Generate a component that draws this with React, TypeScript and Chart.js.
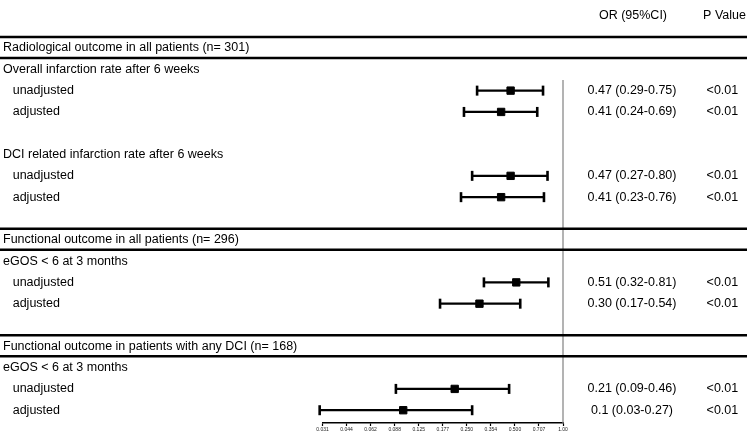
import React, { useEffect, useRef } from "react";
import { Chart, registerables } from "chart.js";

Chart.register(...registerables);

// ---- Data ----
const rowLabels: string[] = [
  "Radiological outcome in all patients (n= 301)",
  "Overall infarction rate after 6 weeks",
  "unadjusted",
  "adjusted",
  "",
  "DCI related infarction rate after 6 weeks",
  "unadjusted",
  "adjusted",
  "",
  "Functional outcome in all patients (n= 296)",
  "eGOS < 6 at 3 months",
  "unadjusted",
  "adjusted",
  "",
  "Functional outcome in patients with any DCI (n= 168)",
  "eGOS < 6 at 3 months",
  "unadjusted",
  "adjusted",
];
const rowKinds: string[] = [
  "section", "group", "sub", "sub", "blank", "group", "sub", "sub", "blank",
  "section", "group", "sub", "sub", "blank",
  "section", "group", "sub", "sub",
];
const estimateRows: number[] = [2, 3, 6, 7, 11, 12, 16, 17];
const orValues: number[] = [0.47, 0.41, 0.47, 0.41, 0.51, 0.30, 0.21, 0.1];
const ciLow: number[] = [0.29, 0.24, 0.27, 0.23, 0.32, 0.17, 0.09, 0.03];
const ciHigh: number[] = [0.75, 0.69, 0.80, 0.76, 0.81, 0.54, 0.46, 0.27];
const orTexts: string[] = [
  "0.47 (0.29-0.75)",
  "0.41 (0.24-0.69)",
  "0.47 (0.27-0.80)",
  "0.41 (0.23-0.76)",
  "0.51 (0.32-0.81)",
  "0.30 (0.17-0.54)",
  "0.21 (0.09-0.46)",
  "0.1 (0.03-0.27)",
];
const pValues: string[] = ["<0.01", "<0.01", "<0.01", "<0.01", "<0.01", "<0.01", "<0.01", "<0.01"];
const tickValues: number[] = [0.03125, 0.04419, 0.0625, 0.08839, 0.125, 0.17678, 0.25, 0.35355, 0.5, 0.70711, 1];
const tickLabels: string[] = ["0.031", "0.044", "0.062", "0.088", "0.125", "0.177", "0.250", "0.354", "0.500", "0.707", "1.00"];
const headerOR = "OR (95%CI)";
const headerP = "P Value";

const FONT = "'Liberation Sans', Arial, Helvetica, sans-serif";

const tablePlugin = {
  id: "forestTable",
  beforeDatasetsDraw(chart: any) {
    const { ctx, scales } = chart;
    const xs = scales.x;
    const ys = scales.y;
    ctx.save();
    // reference line at OR = 1
    const x1 = xs.getPixelForValue(1);
    ctx.strokeStyle = "#8a8a8a";
    ctx.lineWidth = 1.3;
    ctx.beginPath();
    ctx.moveTo(x1, ys.getPixelForValue(1.5));
    ctx.lineTo(x1, chart.chartArea.bottom);
    ctx.stroke();
    // section separator lines
    ctx.strokeStyle = "#000";
    ctx.lineWidth = 2.6;
    rowKinds.forEach((k, i) => {
      if (k !== "section") return;
      [i - 0.52, i + 0.47].forEach((r) => {
        const y = ys.getPixelForValue(r);
        ctx.beginPath();
        ctx.moveTo(0, y);
        ctx.lineTo(747, y);
        ctx.stroke();
      });
    });
    ctx.restore();
  },
  afterDraw(chart: any) {
    const { ctx, scales } = chart;
    const ys = scales.y;
    ctx.save();
    ctx.fillStyle = "#000";
    ctx.textBaseline = "middle";
    ctx.font = `12.5px ${FONT}`;
    // headers
    ctx.textAlign = "center";
    const hy = ys.getPixelForValue(-1.53);
    ctx.fillText(headerOR, 633, hy);
    ctx.fillText(headerP, 724.5, hy);
    // row labels
    ctx.textAlign = "left";
    rowLabels.forEach((lab, i) => {
      if (!lab) return;
      const x = rowKinds[i] === "sub" ? 12.7 : 3;
      ctx.fillText(lab, x, ys.getPixelForValue(i));
    });
    // OR and p-value columns
    ctx.textAlign = "center";
    estimateRows.forEach((r, j) => {
      const y = ys.getPixelForValue(r);
      ctx.fillText(orTexts[j], 632, y);
      ctx.fillText(pValues[j], 722.4, y);
    });
    ctx.restore();
  },
};

export default function App() {
  const canvasRef = useRef<HTMLCanvasElement | null>(null);

  useEffect(() => {
    if (!canvasRef.current) return;
    const ciDatasets = estimateRows.map((r, j) => ({
      type: "line" as const,
      data: [
        { x: ciLow[j], y: r },
        { x: ciHigh[j], y: r },
      ],
      borderColor: "#000",
      borderWidth: 2.2,
      pointStyle: "line" as const,
      rotation: 90,
      pointRadius: 5,
      pointBorderWidth: 2.6,
      pointBorderColor: "#000",
      pointBackgroundColor: "#000",
      fill: false,
      clip: false,
      order: 2,
    }));
    const pointDataset = {
      type: "scatter" as const,
      data: estimateRows.map((r, j) => ({ x: orValues[j], y: r })),
      pointStyle: "rect" as const,
      pointRadius: 5.2,
      backgroundColor: "#000",
      borderColor: "#000",
      borderWidth: 1,
      clip: false,
      order: 0,
    };
    const chart = new Chart(canvasRef.current, {
      type: "scatter",
      data: { datasets: [pointDataset, ...ciDatasets] as any },
      options: {
        animation: false,
        responsive: true,
        maintainAspectRatio: false,
        events: [],
        layout: { padding: { left: 322.5, right: 186, top: 0, bottom: 4 } },
        plugins: { legend: { display: false }, tooltip: { enabled: false } },
        scales: {
          x: {
            type: "logarithmic",
            min: tickValues[0],
            max: tickValues[tickValues.length - 1],
            afterBuildTicks: (scale: any) => {
              scale.ticks = tickValues.map((v) => ({ value: v }));
            },
            ticks: {
              autoSkip: false,
              maxRotation: 0,
              minRotation: 0,
              padding: 1,
              color: "#222",
              font: { size: 5, family: FONT },
              callback: (_v: any, i: number) => tickLabels[i],
            },
            grid: {
              display: true,
              drawOnChartArea: false,
              drawTicks: true,
              tickLength: 3,
              tickWidth: 1.2,
              tickColor: "#000",
            },
            border: { display: true, color: "#000", width: 1.5 },
          },
          y: {
            type: "linear",
            display: false,
            reverse: true,
            min: -1.897,
            max: 17.6,
          },
        },
      } as any,
      plugins: [tablePlugin],
    });
    return () => chart.destroy();
  }, []);

  return (
    <div style={{ position: "fixed", left: 0, top: 0, width: 749, height: 438, background: "#fff" }}>
      <canvas ref={canvasRef} />
    </div>
  );
}
